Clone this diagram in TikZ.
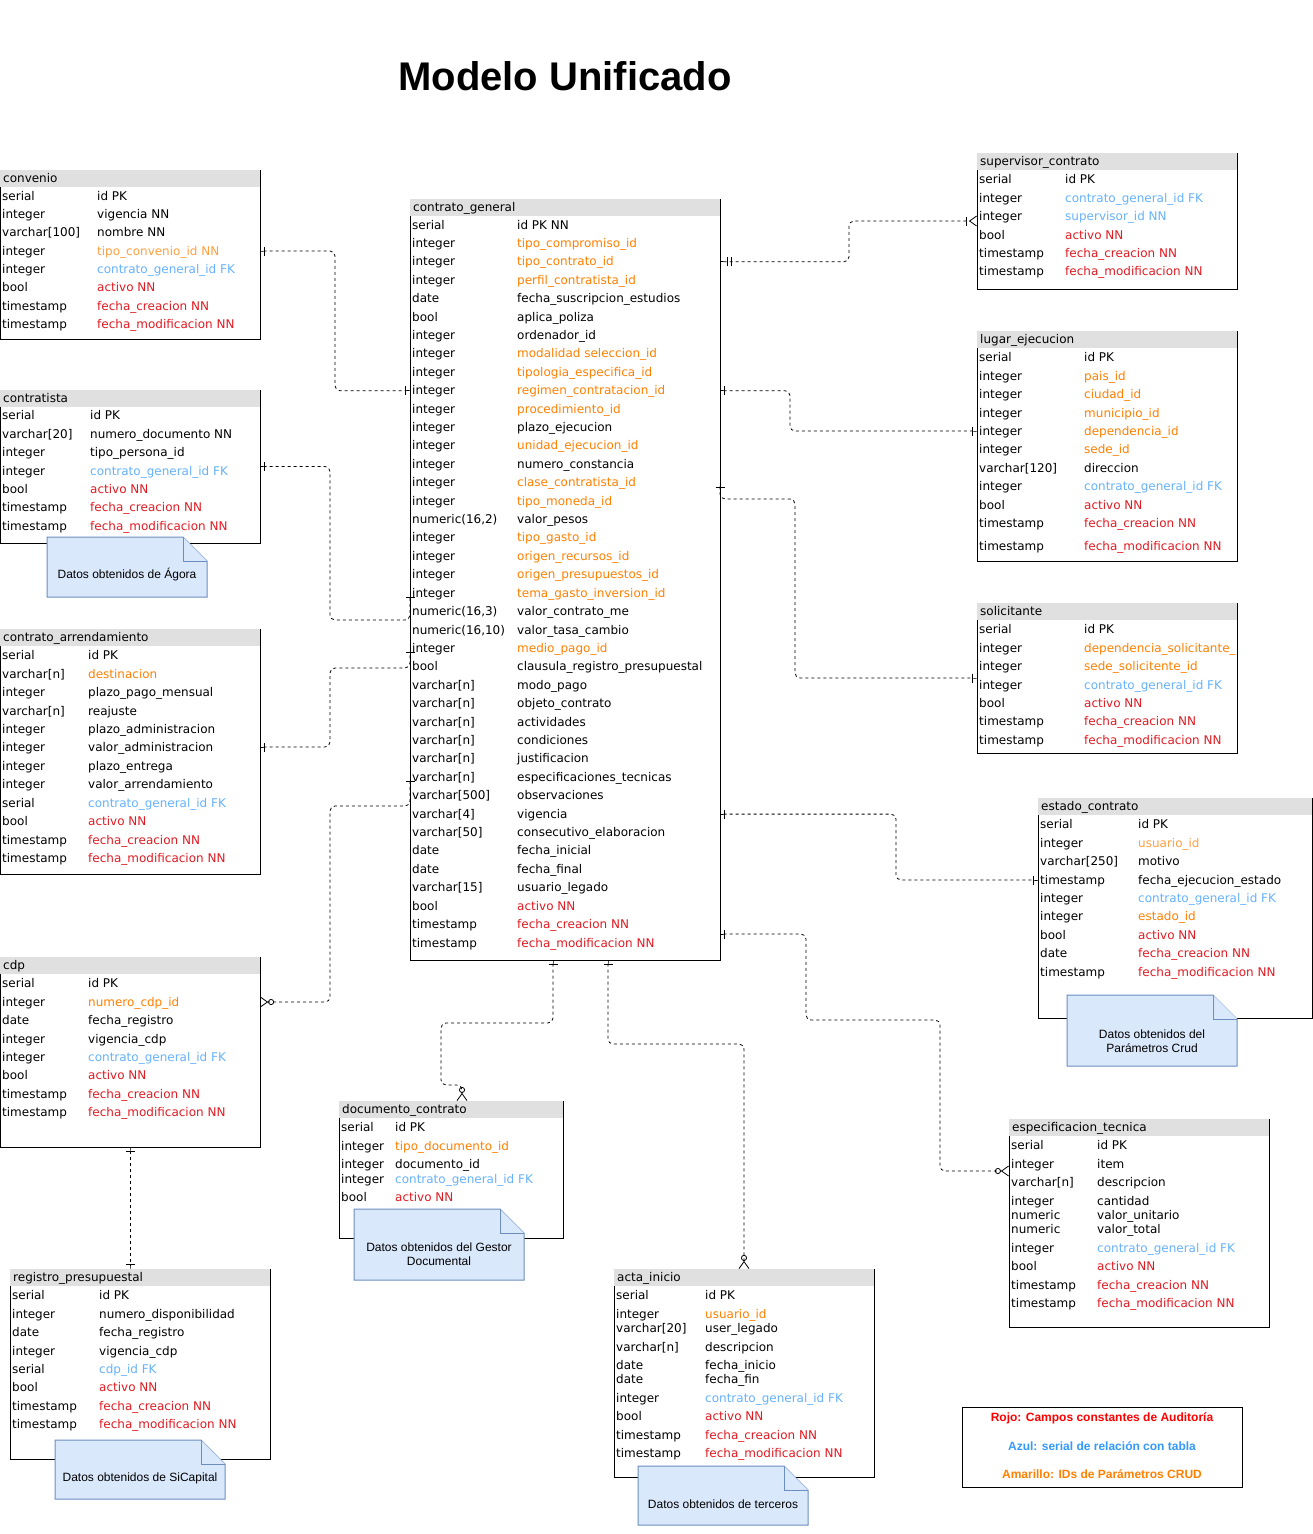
\documentclass[tikz,border=0pt]{standalone}
\usepackage{fontspec}
\setmainfont{DejaVu Sans}
\newfontfamily\notefont{Liberation Sans}
\usetikzlibrary{positioning,arrows.meta}

\definecolor{hdrgray}{HTML}{E0E0E0}
\definecolor{param}{HTML}{FF8000}
\definecolor{paramlight}{HTML}{FFA040}
\definecolor{fkblue}{HTML}{66B2FF}
\definecolor{audit}{HTML}{E11B22}
\definecolor{notefill}{HTML}{DAE8FC}
\definecolor{noteline}{HTML}{6C8EBF}
\definecolor{legred}{HTML}{FF0000}
\definecolor{legblue}{HTML}{3399FF}
\definecolor{legorange}{HTML}{FF8000}

\tikzset{
  box/.style 2 args={anchor=north west, minimum width=#1, minimum height=#2, inner sep=0pt, outer sep=0pt},
  edge/.style={line width=1pt, black},
  cell/.style={anchor=west, inner sep=0pt, text height=10pt, text depth=2pt, font=\fontsize{12}{14}\selectfont},
  note/.style={fill=notefill, draw=noteline, line width=1pt},
  notetext/.style={inner sep=0pt, align=center, font=\notefont\fontsize{12}{14}\selectfont},
  legend/.style={inner sep=0pt, text height=9pt, text depth=3pt, font=\notefont\bfseries\fontsize{12}{14}\selectfont},
  rel/.style={dash pattern=on 3pt off 3pt, line width=0.8pt, rounded corners=5pt},
  onebar/.tip={Bar[width=9pt,sep=0pt] Rectangle[length=4pt,width=0.8pt,sep=0pt]},
  twobar/.tip={Bar[width=9pt,sep=3pt] Bar[width=9pt,sep=3pt] Rectangle[length=4pt,width=0.8pt,sep=0pt]},
  zeromany/.tip={Circle[open,length=6pt,width=6pt,sep=0pt] Straight Barb[reversed,length=7pt,width=10pt,sep=0pt]},
  onemany/.tip={Bar[width=9pt,sep=2pt] Straight Barb[reversed,length=7pt,width=10pt,sep=0pt]}
}
\catcode`\_=12

\begin{document}
\begin{tikzpicture}[x=1pt,y=-1pt]
\useasboundingbox (0,0) rectangle (1313,1534);
\fill[white] (0,0) rectangle (1313,1534);

\node[font=\notefont\bfseries\fontsize{40}{48}\selectfont] (titulo) at (565,76) {Modelo Unificado};

% convenio
\node[box={260pt}{169pt}] (convenio) at (0,170) {};
\fill[hdrgray] (convenio.north west) rectangle ([yshift=-17pt]convenio.north east);
\draw[edge] ([yshift=-17pt]convenio.north west) |- (convenio.south east) -- (convenio.north east);
\node[cell] (cv-h) at (3,178) {convenio};
\foreach \yy/\tp/\fd/\cl [count=\i] in {196/serial/id PK/black, 214/integer/vigencia NN/black,
    232/varchar[100]/nombre NN/black, 251/integer/tipo_convenio_id NN/paramlight,
    269/integer/contrato_general_id FK/fkblue, 287/bool/activo NN/audit,
    306/timestamp/fecha_creacion NN/audit, 324/timestamp/fecha_modificacion NN/audit}{
  \node[cell] (cv-t\i) at (2,\yy) {\tp};
  \node[cell, text=\cl] (cv-f\i) at (97,\yy) {\fd};
}

% contratista
\node[box={260pt}{153pt}] (contratista) at (0,390) {};
\fill[hdrgray] (contratista.north west) rectangle ([yshift=-17pt]contratista.north east);
\draw[edge] ([yshift=-17pt]contratista.north west) |- (contratista.south east) -- (contratista.north east);
\node[cell] (ct-h) at (3,398) {contratista};
\foreach \yy/\tp/\fd/\cl [count=\i] in {415/serial/id PK/black, 434/varchar[20]/numero_documento NN/black,
    452/integer/tipo_persona_id/black, 471/integer/contrato_general_id FK/fkblue,
    489/bool/activo NN/audit, 507/timestamp/fecha_creacion NN/audit,
    526/timestamp/fecha_modificacion NN/audit}{
  \node[cell] (ct-t\i) at (2,\yy) {\tp};
  \node[cell, text=\cl] (ct-f\i) at (90,\yy) {\fd};
}

% contrato_arrendamiento
\node[box={260pt}{245pt}] (arrendamiento) at (0,629) {};
\fill[hdrgray] (arrendamiento.north west) rectangle ([yshift=-17pt]arrendamiento.north east);
\draw[edge] ([yshift=-17pt]arrendamiento.north west) |- (arrendamiento.south east) -- (arrendamiento.north east);
\node[cell] (ca-h) at (3,637) {contrato_arrendamiento};
\foreach \yy/\tp/\fd/\cl [count=\i] in {655/serial/id PK/black, 674/varchar[n]/destinacion/param,
    692/integer/plazo_pago_mensual/black, 711/varchar[n]/reajuste/black,
    729/integer/plazo_administracion/black, 747/integer/valor_administracion/black,
    766/integer/plazo_entrega/black, 784/integer/valor_arrendamiento/black,
    803/serial/contrato_general_id FK/fkblue, 821/bool/activo NN/audit,
    840/timestamp/fecha_creacion NN/audit, 858/timestamp/fecha_modificacion NN/audit}{
  \node[cell] (ca-t\i) at (2,\yy) {\tp};
  \node[cell, text=\cl] (ca-f\i) at (88,\yy) {\fd};
}

% cdp
\node[box={260pt}{190pt}] (cdp) at (0,957) {};
\fill[hdrgray] (cdp.north west) rectangle ([yshift=-17pt]cdp.north east);
\draw[edge] ([yshift=-17pt]cdp.north west) |- (cdp.south east) -- (cdp.north east);
\node[cell] (cd-h) at (3,965) {cdp};
\foreach \yy/\tp/\fd/\cl [count=\i] in {983/serial/id PK/black, 1002/integer/numero_cdp_id/param,
    1020/date/fecha_registro/black, 1039/integer/vigencia_cdp/black,
    1057/integer/contrato_general_id FK/fkblue, 1075/bool/activo NN/audit,
    1094/timestamp/fecha_creacion NN/audit, 1112/timestamp/fecha_modificacion NN/audit}{
  \node[cell] (cd-t\i) at (2,\yy) {\tp};
  \node[cell, text=\cl] (cd-f\i) at (88,\yy) {\fd};
}

% registro_presupuestal
\node[box={260pt}{190pt}] (registro) at (10,1269) {};
\fill[hdrgray] (registro.north west) rectangle ([yshift=-17pt]registro.north east);
\draw[edge] ([yshift=-17pt]registro.north west) |- (registro.south east) -- (registro.north east);
\node[cell] (rp-h) at (13,1277) {registro_presupuestal};
\foreach \yy/\tp/\fd/\cl [count=\i] in {1295/serial/id PK/black, 1314/integer/numero_disponibilidad/black,
    1332/date/fecha_registro/black, 1351/integer/vigencia_cdp/black,
    1369/serial/cdp_id FK/fkblue, 1387/bool/activo NN/audit,
    1406/timestamp/fecha_creacion NN/audit, 1424/timestamp/fecha_modificacion NN/audit}{
  \node[cell] (rp-t\i) at (12,\yy) {\tp};
  \node[cell, text=\cl] (rp-f\i) at (99,\yy) {\fd};
}

% contrato_general
\node[box={310pt}{761pt}] (contrato) at (410,199) {};
\fill[hdrgray] (contrato.north west) rectangle ([yshift=-17pt]contrato.north east);
\draw[edge] ([yshift=-17pt]contrato.north west) |- (contrato.south east) -- (contrato.north east);
\node[cell] (cg-h) at (413,207) {contrato_general};
\foreach \tp/\fd/\cl [count=\i from 0] in {serial/id PK NN/black, integer/tipo_compromiso_id/param,
    integer/tipo_contrato_id/param, integer/perfil_contratista_id/param,
    date/fecha_suscripcion_estudios/black, bool/aplica_poliza/black,
    integer/ordenador_id/black, integer/modalidad seleccion_id/param,
    integer/tipologia_especifica_id/param, integer/regimen_contratacion_id/param,
    integer/procedimiento_id/param, integer/plazo_ejecucion/black,
    integer/unidad_ejecucion_id/param, integer/numero_constancia/black,
    integer/clase_contratista_id/param, integer/tipo_moneda_id/param,
    {numeric(16,2)}/valor_pesos/black, integer/tipo_gasto_id/param,
    integer/origen_recursos_id/param, integer/origen_presupuestos_id/param,
    integer/tema_gasto_inversion_id/param, {numeric(16,3)}/valor_contrato_me/black,
    {numeric(16,10)}/valor_tasa_cambio/black, integer/medio_pago_id/param,
    bool/clausula_registro_presupuestal/black, varchar[n]/modo_pago/black,
    varchar[n]/objeto_contrato/black, varchar[n]/actividades/black,
    varchar[n]/condiciones/black, varchar[n]/justificacion/black,
    varchar[n]/especificaciones_tecnicas/black, varchar[500]/observaciones/black,
    varchar[4]/vigencia/black, varchar[50]/consecutivo_elaboracion/black,
    date/fecha_inicial/black, date/fecha_final/black,
    varchar[15]/usuario_legado/black, bool/activo NN/audit,
    timestamp/fecha_creacion NN/audit, timestamp/fecha_modificacion NN/audit}{
  \node[cell] (cg-t\i) at (412,225+18.41*\i) {\tp};
  \node[cell, text=\cl] (cg-f\i) at (517,225+18.41*\i) {\fd};
}

% supervisor_contrato
\node[box={260pt}{136pt}] (supervisor) at (977,153) {};
\fill[hdrgray] (supervisor.north west) rectangle ([yshift=-17pt]supervisor.north east);
\draw[edge] ([yshift=-17pt]supervisor.north west) |- (supervisor.south east) -- (supervisor.north east);
\node[cell] (sc-h) at (980,161) {supervisor_contrato};
\foreach \yy/\tp/\fd/\cl [count=\i] in {179/serial/id PK/black, 198/integer/contrato_general_id FK/fkblue,
    216/integer/supervisor_id NN/fkblue, 235/bool/activo NN/audit,
    253/timestamp/fecha_creacion NN/audit, 271/timestamp/fecha_modificacion NN/audit}{
  \node[cell] (sc-t\i) at (979,\yy) {\tp};
  \node[cell, text=\cl] (sc-f\i) at (1065,\yy) {\fd};
}

% lugar_ejecucion
\node[box={260pt}{230pt}] (lugar) at (977,331) {};
\fill[hdrgray] (lugar.north west) rectangle ([yshift=-17pt]lugar.north east);
\draw[edge] ([yshift=-17pt]lugar.north west) |- (lugar.south east) -- (lugar.north east);
\node[cell] (le-h) at (980,339) {lugar_ejecucion};
\foreach \yy/\tp/\fd/\cl [count=\i] in {357/serial/id PK/black, 376/integer/pais_id/param,
    394/integer/ciudad_id/param, 413/integer/municipio_id/param,
    431/integer/dependencia_id/param, 449/integer/sede_id/param,
    468/varchar[120]/direccion/black, 486/integer/contrato_general_id FK/fkblue,
    505/bool/activo NN/audit, 523/timestamp/fecha_creacion NN/audit,
    546/timestamp/fecha_modificacion NN/audit}{
  \node[cell] (le-t\i) at (979,\yy) {\tp};
  \node[cell, text=\cl] (le-f\i) at (1084,\yy) {\fd};
}

% solicitante
\node[box={260pt}{150pt}] (solicitante) at (977,603) {};
\fill[hdrgray] (solicitante.north west) rectangle ([yshift=-17pt]solicitante.north east);
\draw[edge] ([yshift=-17pt]solicitante.north west) |- (solicitante.south east) -- (solicitante.north east);
\node[cell] (so-h) at (980,611) {solicitante};
\foreach \yy/\tp/\fd/\cl [count=\i] in {629/serial/id PK/black, 648/integer/dependencia_solicitante_/param,
    666/integer/sede_solicitente_id/param, 685/integer/contrato_general_id FK/fkblue,
    703/bool/activo NN/audit, 721/timestamp/fecha_creacion NN/audit,
    740/timestamp/fecha_modificacion NN/audit}{
  \node[cell] (so-t\i) at (979,\yy) {\tp};
  \node[cell, text=\cl] (so-f\i) at (1084,\yy) {\fd};
}

% estado_contrato
\node[box={274pt}{220pt}] (estado) at (1038,798) {};
\fill[hdrgray] (estado.north west) rectangle ([yshift=-17pt]estado.north east);
\draw[edge] ([yshift=-17pt]estado.north west) |- (estado.south east) -- (estado.north east);
\node[cell] (ec-h) at (1041,806) {estado_contrato};
\foreach \yy/\tp/\fd/\cl [count=\i] in {824/serial/id PK/black, 843/integer/usuario_id/paramlight,
    861/varchar[250]/motivo/black, 880/timestamp/fecha_ejecucion_estado/black,
    898/integer/contrato_general_id FK/fkblue, 916/integer/estado_id/param,
    935/bool/activo NN/audit, 953/date/fecha_creacion NN/audit,
    972/timestamp/fecha_modificacion NN/audit}{
  \node[cell] (ec-t\i) at (1040,\yy) {\tp};
  \node[cell, text=\cl] (ec-f\i) at (1138,\yy) {\fd};
}

% especificacion_tecnica
\node[box={260pt}{208pt}] (especificacion) at (1009,1119) {};
\fill[hdrgray] (especificacion.north west) rectangle ([yshift=-17pt]especificacion.north east);
\draw[edge] ([yshift=-17pt]especificacion.north west) |- (especificacion.south east) -- (especificacion.north east);
\node[cell] (et-h) at (1012,1127) {especificacion_tecnica};
\foreach \yy/\tp/\fd/\cl [count=\i] in {1145/serial/id PK/black, 1164/integer/item/black,
    1182/varchar[n]/descripcion/black, 1201/integer/cantidad/black,
    1215/numeric/valor_unitario/black, 1229/numeric/valor_total/black,
    1248/integer/contrato_general_id FK/fkblue, 1266/bool/activo NN/audit,
    1285/timestamp/fecha_creacion NN/audit, 1303/timestamp/fecha_modificacion NN/audit}{
  \node[cell] (et-t\i) at (1011,\yy) {\tp};
  \node[cell, text=\cl] (et-f\i) at (1097,\yy) {\fd};
}

% documento_contrato
\node[box={224pt}{137pt}] (documento) at (339,1101) {};
\fill[hdrgray] (documento.north west) rectangle ([yshift=-17pt]documento.north east);
\draw[edge] ([yshift=-17pt]documento.north west) |- (documento.south east) -- (documento.north east);
\node[cell] (dc-h) at (342,1109) {documento_contrato};
\foreach \yy/\tp/\fd/\cl [count=\i] in {1127/serial/id PK/black, 1146/integer/tipo_documento_id/param,
    1164/integer/documento_id/black, 1179/integer/contrato_general_id FK/fkblue,
    1197/bool/activo NN/audit}{
  \node[cell] (dc-t\i) at (341,\yy) {\tp};
  \node[cell, text=\cl] (dc-f\i) at (395,\yy) {\fd};
}

% acta_inicio
\node[box={260pt}{208pt}] (acta) at (614,1269) {};
\fill[hdrgray] (acta.north west) rectangle ([yshift=-17pt]acta.north east);
\draw[edge] ([yshift=-17pt]acta.north west) |- (acta.south east) -- (acta.north east);
\node[cell] (ai-h) at (617,1277) {acta_inicio};
\foreach \yy/\tp/\fd/\cl [count=\i] in {1295/serial/id PK/black, 1314/integer/usuario_id/param,
    1328/varchar[20]/user_legado/black, 1347/varchar[n]/descripcion/black,
    1365/date/fecha_inicio/black, 1379/date/fecha_fin/black,
    1398/integer/contrato_general_id FK/fkblue, 1416/bool/activo NN/audit,
    1435/timestamp/fecha_creacion NN/audit, 1453/timestamp/fecha_modificacion NN/audit}{
  \node[cell] (ai-t\i) at (616,\yy) {\tp};
  \node[cell, text=\cl] (ai-f\i) at (705,\yy) {\fd};
}

% notas
\node[box={160pt}{60pt}] (agora) at (47,537) {};
\filldraw[note] (agora.north west) -- ([xshift=-24pt]agora.north east) -- ([yshift=-24pt]agora.north east) -- (agora.south east) -- (agora.south west) -- cycle;
\draw[note] ([xshift=-24pt]agora.north east) |- ([yshift=-24pt]agora.north east);
\node[notetext] (agora-t) at (127,575) {Datos obtenidos de Ágora};

\node[box={170pt}{59pt}] (sicapital) at (55,1440) {};
\filldraw[note] (sicapital.north west) -- ([xshift=-24pt]sicapital.north east) -- ([yshift=-24pt]sicapital.north east) -- (sicapital.south east) -- (sicapital.south west) -- cycle;
\draw[note] ([xshift=-24pt]sicapital.north east) |- ([yshift=-24pt]sicapital.north east);
\node[notetext] (sicapital-t) at (140,1478) {Datos obtenidos de SiCapital};

\node[box={170pt}{71pt}] (gestor) at (354,1209) {};
\filldraw[note] (gestor.north west) -- ([xshift=-24pt]gestor.north east) -- ([yshift=-24pt]gestor.north east) -- (gestor.south east) -- (gestor.south west) -- cycle;
\draw[note] ([xshift=-24pt]gestor.north east) |- ([yshift=-24pt]gestor.north east);
\node[notetext] (gestor-t) at (439,1254) {Datos obtenidos del Gestor\\Documental};

\node[box={170pt}{59pt}] (terceros) at (638,1466) {};
\filldraw[note] (terceros.north west) -- ([xshift=-24pt]terceros.north east) -- ([yshift=-24pt]terceros.north east) -- (terceros.south east) -- (terceros.south west) -- cycle;
\draw[note] ([xshift=-24pt]terceros.north east) |- ([yshift=-24pt]terceros.north east);
\node[notetext] (terceros-t) at (723,1504) {Datos obtenidos de terceros};

\node[box={170pt}{71pt}] (crud) at (1067,995) {};
\filldraw[note] (crud.north west) -- ([xshift=-24pt]crud.north east) -- ([yshift=-24pt]crud.north east) -- (crud.south east) -- (crud.south west) -- cycle;
\draw[note] ([xshift=-24pt]crud.north east) |- ([yshift=-24pt]crud.north east);
\node[notetext] (crud-t) at (1152,1041) {Datos obtenidos del\\Parámetros Crud};

% leyenda
\node[box={280pt}{80pt}, draw, line width=1pt] (leyenda) at (962,1407) {};
\node[legend, text=legred] (ley-rojo) at (1102,1418) {Rojo: Campos constantes de Auditoría};
\node[legend, text=legblue] (ley-azul) at (1102,1447) {Azul: serial de relación con tabla};
\node[legend, text=legorange] (ley-amarillo) at (1102,1475) {Amarillo: IDs de Parámetros CRUD};

% relaciones
\draw[rel, onebar-onebar] (convenio.east |- cv-f4) -- ++(75,0) |- (contrato.west |- cg-f9);
\draw[rel, onebar-onebar] (contratista.east) -- ++(70,0) |- (410,620) -- (contrato.west |- cg-f20);
\draw[rel, onebar-onebar] (arrendamiento.east |- ca-f6) -- ++(70,0) |- (410,668) -- (contrato.west |- cg-f23);
\draw[rel, onebar-zeromany] (contrato.west |- cg-f30) -- (410,806) -- (330,806) |- (cdp.east |- cd-f2);
\draw[rel, twobar-onemany] (contrato.east |- cg-f2) -- ++(129,0) |- (supervisor.west);
\draw[rel, onebar-onebar] (contrato.east |- cg-f9) -- ++(70,0) |- (lugar.west |- le-f5);
\draw[rel, onebar-onebar] (contrato.east |- cg-f14) -- (720,499) -- (795,499) |- (solicitante.west);
\draw[rel, onebar-onebar] (contrato.east |- cg-f32) -- ++(176,0) |- (estado.west |- ec-f4);
\draw[rel, onebar-zeromany] ([yshift=26pt]contrato.south east) -- (806,934) -- (806,1020) -- (940,1020) |- ([yshift=-52pt]especificacion.north west);
\draw[rel, onebar-zeromany] ([xshift=-12pt]contrato.south) -- (553,1023) -- (441,1023) -- (441,1085) -- (462,1085) -- ([xshift=11pt]documento.north);
\draw[rel, onebar-zeromany] ([xshift=43pt]contrato.south) -- (608,1044) -| (acta.north);
\draw[rel, onebar-onebar] (cdp.south) -- (cdp.south |- registro.north);
\end{tikzpicture}
\end{document}
